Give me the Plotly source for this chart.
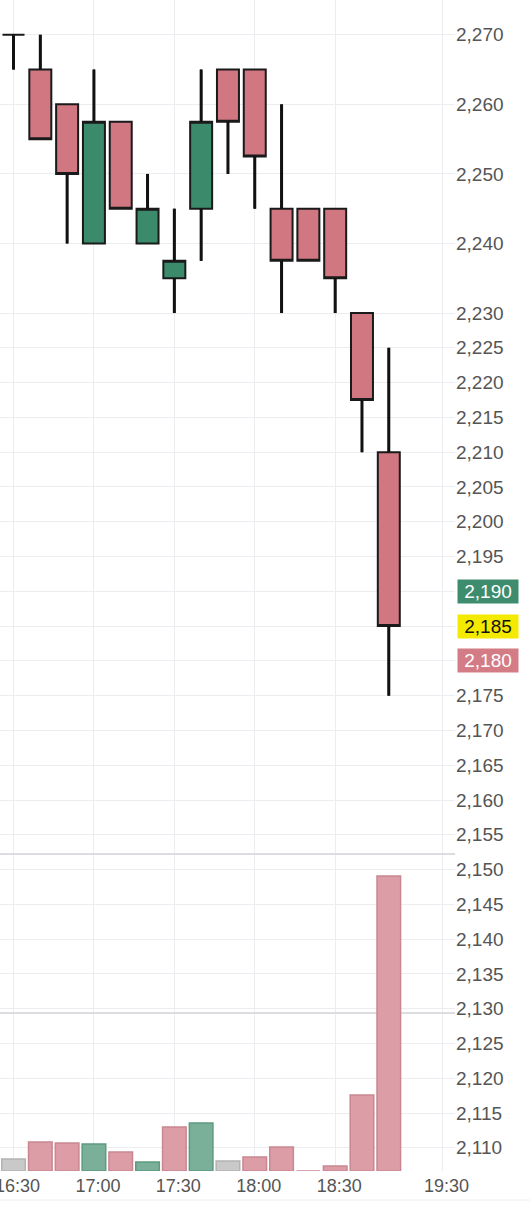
import plotly.graph_objects as go

# ---- data ----
times = ["16:30", "16:40", "16:50", "17:00", "17:10", "17:20", "17:30", "17:40",
         "17:50", "18:00", "18:10", "18:20", "18:30", "18:40", "18:50"]
opens = [2270, 2265, 2260, 2240, 2257.5, 2240, 2235, 2245, 2265, 2265, 2245, 2245, 2245, 2230, 2210]
highs = [2270, 2270, 2260, 2265, 2257.5, 2250, 2245, 2265, 2265, 2265, 2260, 2245, 2245, 2230, 2225]
lows = [2265, 2255, 2240, 2240, 2245, 2240, 2230, 2237.5, 2250, 2245, 2230, 2237.5, 2230, 2210, 2175]
closes = [2270, 2255, 2250, 2257.5, 2245, 2245, 2237.5, 2257.5, 2257.5, 2252.5, 2237.5, 2237.5, 2235, 2217.5, 2185]

volumes = [120, 290, 280, 270, 190, 90, 440, 480, 100, 140, 240, 0, 50, 760, 2950]
volume_dirs = ["flat", "down", "down", "up", "down", "up", "down", "up",
               "flat", "down", "down", "down", "down", "down", "down"]

x_tick_labels = ["16:30", "17:00", "17:30", "18:00", "18:30", "19:30"]
price_ticks = [2270, 2260, 2250, 2240, 2230, 2225, 2220, 2215, 2210, 2205, 2200, 2195,
               2190, 2185, 2180, 2175, 2170, 2165, 2160, 2155, 2150, 2145, 2140, 2135,
               2130, 2125, 2120, 2115, 2110]

badge_prices = [2190, 2185, 2180]
badge_bg = ["#3E8C6E", "#F4EA00", "#D47C86"]
badge_fg = ["#FFFFFF", "#111111", "#FFFFFF"]

# ---- styles ----
RED = "#D07782"
GREEN = "#3B8A6C"
vol_fill = {"up": "#7AB09A", "down": "#DC9DA6", "flat": "#C9C9C9"}
vol_line = {"up": "#5E9A81", "down": "#C98791", "flat": "#B3B3B3"}
GRID = "#ECECF1"
FONT = "Liberation Sans, Arial, sans-serif"
LBL = "#555555"

xpos = list(range(len(times)))

def tick_pos(lbl):
    if lbl in times:
        return times.index(lbl)
    return len(times) + 1

fig = go.Figure()

fig.add_trace(go.Bar(
    x=xpos, y=volumes, yaxis="y2",
    marker=dict(color=[vol_fill[d] for d in volume_dirs],
                line=dict(color=[vol_line[d] for d in volume_dirs], width=1.5)),
    hoverinfo="skip", showlegend=False,
))

# thicker wicks (outside the bodies) drawn from the OHLC data
wx, wy = [], []
for i, o, h, l, c in zip(xpos, opens, highs, lows, closes):
    top, bot = max(o, c), min(o, c)
    if h > top:
        wx += [i, i, None]
        wy += [top, h, None]
    if l < bot:
        wx += [i, i, None]
        wy += [l, bot, None]
fig.add_trace(go.Scatter(x=wx, y=wy, mode="lines",
                         line=dict(color="#111111", width=3),
                         hoverinfo="skip", showlegend=False))

fig.add_trace(go.Candlestick(
    x=xpos, open=opens, high=highs, low=lows, close=closes,
    increasing=dict(fillcolor=GREEN, line=dict(color="#1A1A1A", width=2)),
    decreasing=dict(fillcolor=RED, line=dict(color="#1A1A1A", width=2)),
    whiskerwidth=0, showlegend=False,
))

ticktext = ["" if p in badge_prices else f"{p:,}" for p in price_ticks]

vmax = max(volumes)
pane_top = vmax * 317 / 295

fig.update_layout(
    width=530, height=1210,
    margin=dict(l=0, r=75, t=0, b=39, autoexpand=False),
    paper_bgcolor="white", plot_bgcolor="white",
    font=dict(family=FONT, size=18, color=LBL),
    boxgap=0.18, boxgroupgap=0, bargap=0.12,
    xaxis=dict(
        range=[-0.504, 16.47], automargin=False,
        tickvals=[tick_pos(l) for l in x_tick_labels],
        ticktext=x_tick_labels,
        showgrid=True, gridcolor=GRID, gridwidth=1,
        zeroline=False, showline=False, ticks="",
        ticklabelstandoff=2, ticklabelshift=4, ticklabeloverflow="allow",
        rangeslider=dict(visible=False),
        tickfont=dict(size=18, color=LBL),
    ),
    yaxis=dict(
        side="right", range=[2106.67, 2275.0], automargin=False,
        tickvals=price_ticks, ticktext=ticktext,
        showgrid=True, gridcolor=GRID, gridwidth=1,
        zeroline=False, showline=False, ticks="",
        ticklabeloverflow="allow",
        tickfont=dict(size=19, color=LBL),
    ),
    yaxis2=dict(
        overlaying="y", side="left", automargin=False,
        range=[0, pane_top * 1171 / 317],
        tickvals=[pane_top / 2, pane_top],
        showticklabels=False, showgrid=True,
        gridcolor="#DCDCE3", gridwidth=2, zeroline=False, showline=False,
    ),
)

for p, bg, fg in zip(badge_prices, badge_bg, badge_fg):
    fig.add_annotation(
        x=1, xref="paper", xanchor="left", xshift=2,
        y=p, yref="y", yanchor="middle",
        text=f"&nbsp;{p:,}&nbsp;", showarrow=False,
        bgcolor=bg, font=dict(family=FONT, size=19, color=fg),
        borderpad=1,
    )

fig.add_shape(type="line", xref="paper", yref="paper",
              x0=0, x1=530 / 455, y0=-29 / 1171, y1=-29 / 1171,
              line=dict(color="#EEEEEE", width=1))

fig.write_html("out.html",
               config={"displayModeBar": False},
               post_script="document.body.style.margin='0';document.body.style.overflow='hidden';")
